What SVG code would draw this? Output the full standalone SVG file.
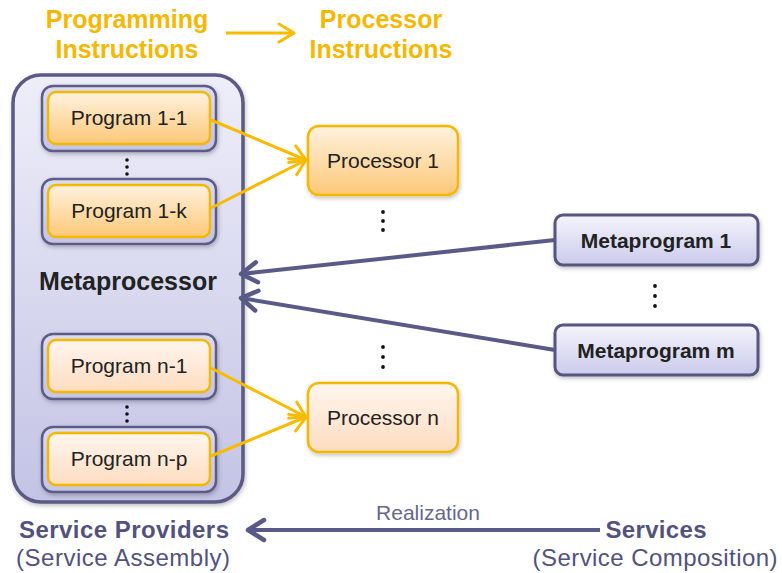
<svg xmlns="http://www.w3.org/2000/svg" width="782" height="573" viewBox="0 0 782 573">
  <defs>
    <linearGradient id="gMeta" x1="0" y1="0" x2="0" y2="1">
      <stop offset="0" stop-color="#eeeef9"/>
      <stop offset="1" stop-color="#c3c3e5"/>
    </linearGradient>
    <linearGradient id="gMetaProg" x1="0" y1="0" x2="0" y2="1">
      <stop offset="0" stop-color="#f4f4fc"/>
      <stop offset="1" stop-color="#cbcbec"/>
    </linearGradient>
    <linearGradient id="gFrame" x1="0" y1="0" x2="0" y2="1">
      <stop offset="0" stop-color="#dcdcf0"/>
      <stop offset="1" stop-color="#c4c4e4"/>
    </linearGradient>
    <linearGradient id="gOrange" x1="0" y1="0" x2="0" y2="1">
      <stop offset="0" stop-color="#fff2df"/>
      <stop offset="1" stop-color="#fcc877"/>
    </linearGradient>
    <linearGradient id="gPeach" x1="0" y1="0" x2="0" y2="1">
      <stop offset="0" stop-color="#fff6ee"/>
      <stop offset="1" stop-color="#fddcc0"/>
    </linearGradient>
    <filter id="shadow" x="-10%" y="-10%" width="120%" height="125%">
      <feDropShadow dx="1" dy="2" stdDeviation="2" flood-color="#000" flood-opacity="0.25"/>
    </filter>
    <marker id="arrOrange" viewBox="0 0 22 22" refX="19" refY="11" markerWidth="22" markerHeight="22" markerUnits="userSpaceOnUse" orient="auto">
      <path d="M4,2 L19,11 L4,20" fill="none" stroke="#f8bb00" stroke-width="3" stroke-linecap="round" stroke-linejoin="round"/>
    </marker>
    <marker id="arrLav" viewBox="0 0 26 26" refX="22" refY="13" markerWidth="26" markerHeight="26" markerUnits="userSpaceOnUse" orient="auto">
      <path d="M6,3 L22,13 L6,23" fill="none" stroke="#5a5a88" stroke-width="4.5" stroke-linecap="round" stroke-linejoin="round"/>
    </marker>
  </defs>
  <style>
    .title { font-family: "Liberation Sans", Arial, sans-serif; font-size: 25px; font-weight: bold; fill: #f6b700; text-anchor: middle; }
    .lbl { font-family: "Liberation Sans", Arial, sans-serif; font-size: 21px; fill: #222; text-anchor: middle; }
    .bold { font-weight: bold; }
    .svc { font-family: "Liberation Sans", Arial, sans-serif; font-size: 24px; fill: #52527c; text-anchor: middle; }
    .frame { fill: url(#gFrame); stroke: #5c5c86; stroke-width: 2.5; }
    .prog { fill: url(#gOrange); stroke: #f5b800; stroke-width: 2.5; }
    .progLight { fill: url(#gPeach); stroke: #f5b800; stroke-width: 2.5; }
    .metaprog { fill: url(#gMetaProg); stroke: #55557f; stroke-width: 3; }
    .dot { fill: #111; }
    .orangeLine { fill: none; stroke: #f8bb00; stroke-width: 3; }
    .lavLine { fill: none; stroke: #5a5a88; stroke-width: 4; }
  </style>

  <!-- legend -->
  <g id="legend">
    <text class="title" x="127" y="28">Programming</text>
    <text class="title" x="127" y="58">Instructions</text>
    <text class="title" x="381" y="28">Processor</text>
    <text class="title" x="381" y="58">Instructions</text>
    <line class="orangeLine" x1="226" y1="33" x2="294" y2="33" marker-end="url(#arrOrange)"/>
  </g>

  <!-- metaprocessor container -->
  <g id="metaprocessor">
    <rect x="13" y="75" width="230" height="427" rx="28" fill="url(#gMeta)" stroke="#5a5a84" stroke-width="3.5" filter="url(#shadow)"/>
    <text class="lbl bold" x="128" y="290" style="font-size:25px">Metaprocessor</text>
  </g>

  <g id="program-1-1">
    <rect class="frame" x="42" y="86" width="174" height="65" rx="11" filter="url(#shadow)"/>
    <rect class="prog" x="48" y="92" width="162" height="52" rx="8"/>
    <text class="lbl" x="129" y="125">Program 1-1</text>
  </g>
  <g id="program-1-k">
    <rect class="frame" x="42" y="179" width="174" height="65" rx="11" filter="url(#shadow)"/>
    <rect class="prog" x="48" y="185" width="162" height="52" rx="8"/>
    <text class="lbl" x="129" y="218">Program 1-k</text>
  </g>
  <g id="program-n-1">
    <rect class="frame" x="42" y="334" width="174" height="65" rx="11" filter="url(#shadow)"/>
    <rect class="progLight" x="48" y="340" width="162" height="52" rx="8"/>
    <text class="lbl" x="129" y="373">Program n-1</text>
  </g>
  <g id="program-n-p">
    <rect class="frame" x="42" y="427" width="174" height="65" rx="11" filter="url(#shadow)"/>
    <rect class="progLight" x="48" y="433" width="162" height="52" rx="8"/>
    <text class="lbl" x="129" y="466">Program n-p</text>
  </g>

  <g id="processor-1">
    <rect class="prog" x="308" y="126" width="150" height="69" rx="11" filter="url(#shadow)"/>
    <text class="lbl" x="383" y="168">Processor 1</text>
  </g>
  <g id="processor-n">
    <rect class="progLight" x="308" y="383" width="150" height="69" rx="11" filter="url(#shadow)"/>
    <text class="lbl" x="383" y="425">Processor n</text>
  </g>

  <g id="metaprogram-1">
    <rect class="metaprog" x="555" y="215" width="203" height="50" rx="8" filter="url(#shadow)"/>
    <text class="lbl bold" x="656" y="248">Metaprogram 1</text>
  </g>
  <g id="metaprogram-m">
    <rect class="metaprog" x="555" y="325" width="203" height="50" rx="8" filter="url(#shadow)"/>
    <text class="lbl bold" x="656" y="358">Metaprogram m</text>
  </g>

  <!-- ellipses -->
  <g id="ellipses">
    <circle class="dot" cx="127" cy="160" r="1.8"/>
    <circle class="dot" cx="127" cy="167" r="1.8"/>
    <circle class="dot" cx="127" cy="174" r="1.8"/>
    <circle class="dot" cx="127" cy="407" r="1.8"/>
    <circle class="dot" cx="127" cy="414" r="1.8"/>
    <circle class="dot" cx="127" cy="421" r="1.8"/>
    <circle class="dot" cx="383" cy="212" r="1.9"/>
    <circle class="dot" cx="383" cy="221" r="1.9"/>
    <circle class="dot" cx="383" cy="230" r="1.9"/>
    <circle class="dot" cx="383" cy="347" r="1.9"/>
    <circle class="dot" cx="383" cy="357" r="1.9"/>
    <circle class="dot" cx="383" cy="367" r="1.9"/>
    <circle class="dot" cx="655" cy="286" r="1.9"/>
    <circle class="dot" cx="655" cy="296" r="1.9"/>
    <circle class="dot" cx="655" cy="306" r="1.9"/>
  </g>

  <!-- connectors -->
  <g id="connectors">
    <line class="orangeLine" x1="211" y1="120" x2="306" y2="160" marker-end="url(#arrOrange)"/>
    <line class="orangeLine" x1="211" y1="208" x2="306" y2="160" marker-end="url(#arrOrange)"/>
    <line class="orangeLine" x1="211" y1="368" x2="306" y2="417" marker-end="url(#arrOrange)"/>
    <line class="orangeLine" x1="211" y1="456" x2="306" y2="417" marker-end="url(#arrOrange)"/>
    <line class="lavLine" x1="555" y1="240" x2="241" y2="274" marker-end="url(#arrLav)"/>
    <line class="lavLine" x1="555" y1="350" x2="241" y2="298" marker-end="url(#arrLav)"/>
    <line class="lavLine" x1="600" y1="530" x2="248" y2="530" marker-end="url(#arrLav)"/>
  </g>

  <!-- service layer labels -->
  <g id="services">
    <text class="svc bold" x="124" y="538" textLength="210">Service Providers</text>
    <text class="svc" x="123" y="566" textLength="214">(Service Assembly)</text>
    <text class="svc bold" x="656" y="538" textLength="101">Services</text>
    <text class="svc" x="655" y="566" textLength="245">(Service Composition)</text>
    <text class="svc" x="428" y="520" style="font-size:21px;fill:#66668f">Realization</text>
  </g>
</svg>
